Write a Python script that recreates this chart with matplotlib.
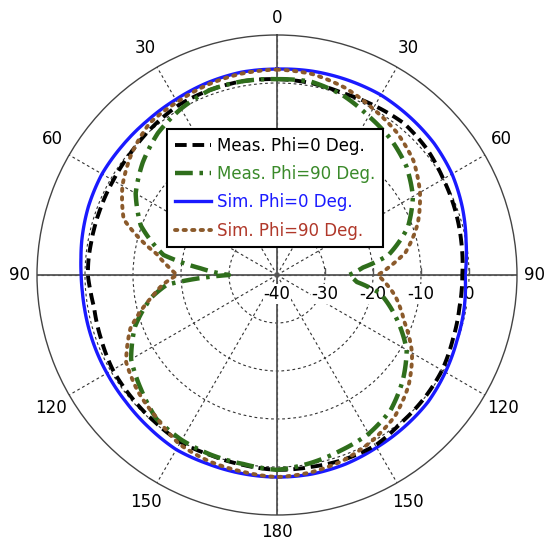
import matplotlib
matplotlib.use('Agg')
import matplotlib.pyplot as plt
from matplotlib.transforms import offset_copy
import numpy as np

# angle in degrees, clockwise from top (0..360); left half shown as 180..0
theta_deg = [0, 10, 20, 30, 40, 50, 60, 70, 80, 85, 90, 95, 100, 110, 120, 130, 140, 150, 160, 170,
             180, 190, 200, 210, 220, 230, 240, 250, 260, 265, 270, 275, 280, 290, 300, 310, 320,
             330, 340, 350, 360]

meas_phi0 = [0.8, 0.6, 0.3, 0.7, 1.2, 0.8, 0.0, -0.5, -1.0, -1.2, -1.4, -1.4, -1.4, -1.0, -0.3, 0.0,
             0.2, 1.0, 0.9, 0.6, 0.6, 0.2, 0.0, 0.2, -0.2, -0.4, -0.5, -1.0, -1.3, -1.0, -0.6,
             -0.6, -0.7, -0.7, -0.6, -0.3, 0.3, 0.9, 1.0, 1.0, 0.8]
meas_phi90 = [0.8, 0.9, -0.1, -1.8, -3.1, -4.8, -7.3, -11.0, -16.5, -22.0, -25.0, -23.3, -18.2,
              -13.5, -8.8, -5.8, -3.2, -1.8, -1.1, -0.2, 0.6, 0.0, -0.1, -0.3, -0.9, -3.0, -4.9,
              -8.5, -13.5, -17.0, -30.0, -24.0, -16.0, -9.8, -6.0, -3.5, -1.4, 0.0, 1.0, 1.0, 0.8]
sim_phi0 = [2.9, 3.1, 3.2, 3.3, 3.0, 2.7, 2.1, 1.1, 0.0, -0.4, -0.8, -0.6, -0.4, -0.1, 0.5, 1.1,
            1.3, 1.5, 1.9, 2.1, 2.1, 2.0, 1.9, 2.0, 1.5, 1.1, 0.9, 0.8, 0.7, 0.7, 0.8, 1.0, 1.3,
            1.8, 2.1, 2.0, 2.0, 2.2, 2.6, 2.9, 2.9]
sim_phi90 = [2.8, 2.5, 1.5, 0.0, -1.2, -2.9, -5.6, -8.8, -12.8, -16.0, -19.0, -17.0, -15.0, -11.8,
             -7.5, -4.2, -1.7, -0.2, 1.0, 1.7, 2.1, 1.6, 1.3, 0.7, -1.1, -2.2, -3.7, -7.5, -13.5,
             -16.0, -19.2, -17.0, -14.5, -6.0, -2.8, -0.5, 1.3, 1.6, 2.2, 2.6, 2.8]

labels = ['Meas. Phi=0 Deg.', 'Meas. Phi=90 Deg.', 'Sim. Phi=0 Deg.', 'Sim. Phi=90 Deg.']
r_ticks = [-40, -30, -20, -10, 0]
angle_ticks = np.arange(0, 360, 30)
angle_labels = ['0', '30', '60', '90', '120', '150', '180', '150', '120', '90', '60', '30']

th = np.deg2rad(theta_deg)

fig = plt.figure(figsize=(5.47, 5.5), dpi=100)
ax = fig.add_axes([37 / 547, 35 / 550, 480 / 547, 480 / 550], projection='polar')
ax.set_theta_zero_location('N')
ax.set_theta_direction(-1)
ax.set_rlim(-40, 10)
ax.set_rticks([-30, -20, -10, 0])
ax.set_yticklabels([])
ax.set_thetagrids(angle_ticks, labels=[''] * 12)
ax.grid(color='#333333', linestyle=(0, (2.5, 2.5)), linewidth=0.8)
ax.spines['polar'].set_color('#444444')
ax.spines['polar'].set_linewidth(1.0)

# solid main axes
for a in [0, 90, 180, 270]:
    ax.plot([np.deg2rad(a)] * 2, [-40, 10], color='#555555', lw=1.3, zorder=2)
# small ticks on the right horizontal axis
ax.plot([np.pi / 2] * 4, [-30, -20, -10, 0], ls='none', marker=2, ms=5, color='#555555', zorder=2)

lines = []
lines += ax.plot(th, meas_phi0, color='black', lw=2.8, ls=(0, (3, 1.5)), label=labels[0], zorder=4)
lines += ax.plot(th, meas_phi90, color='#2f6e1c', lw=3.2, ls=(0, (4, 1.5, 0.8, 1.5)),
                 label=labels[1], zorder=4)
lines += ax.plot(th, sim_phi0, color='#1a1aff', lw=2.4, ls='-', label=labels[2], zorder=3)
lines += ax.plot(th, sim_phi90, color='#8b5a2b', lw=2.8, ls=(0, (0.6, 1.6)), dash_capstyle='round',
                 label=labels[3], zorder=5)
for ln in lines:
    ln.get_path()._interpolation_steps = 10  # follow the polar grid between samples

# radial labels below the right horizontal axis
trans = offset_copy(ax.transData, fig=fig, y=-7, units='points')
for r in r_ticks:
    ax.text(np.pi / 2, r, str(r), transform=trans, ha='center', va='top', fontsize=12,
            bbox=dict(fc='white', ec='none', pad=0.6), zorder=2.5)

# angle labels
for a, lab in zip(angle_ticks, angle_labels):
    ang = a
    if a in (60, 300):
        ang = a - 1.3 if a == 60 else a + 1.3
    if a in (120, 240):
        ang = a + 0.5 if a == 120 else a - 0.5
    rr = 13.6 + 1.3 * abs(np.sin(np.deg2rad(2 * a)))
    ax.text(np.deg2rad(ang), rr, lab, ha='center', va='center', fontsize=12, clip_on=False)

leg = ax.legend(loc='upper left', bbox_to_anchor=(167 / 547, 1 - 129 / 550),
                bbox_transform=fig.transFigure, borderaxespad=0, fontsize=12,
                handlelength=2.2, labelspacing=0.62, handletextpad=0.35, borderpad=0.45,
                fancybox=False, framealpha=1, edgecolor='black',
                labelcolor=['black', '#3a8a2a', '#1a1aff', '#b0382a'])
leg.get_frame().set_linewidth(1.5)
leg.set_zorder(6)

plt.savefig('out.png', dpi=100)
plt.close()
